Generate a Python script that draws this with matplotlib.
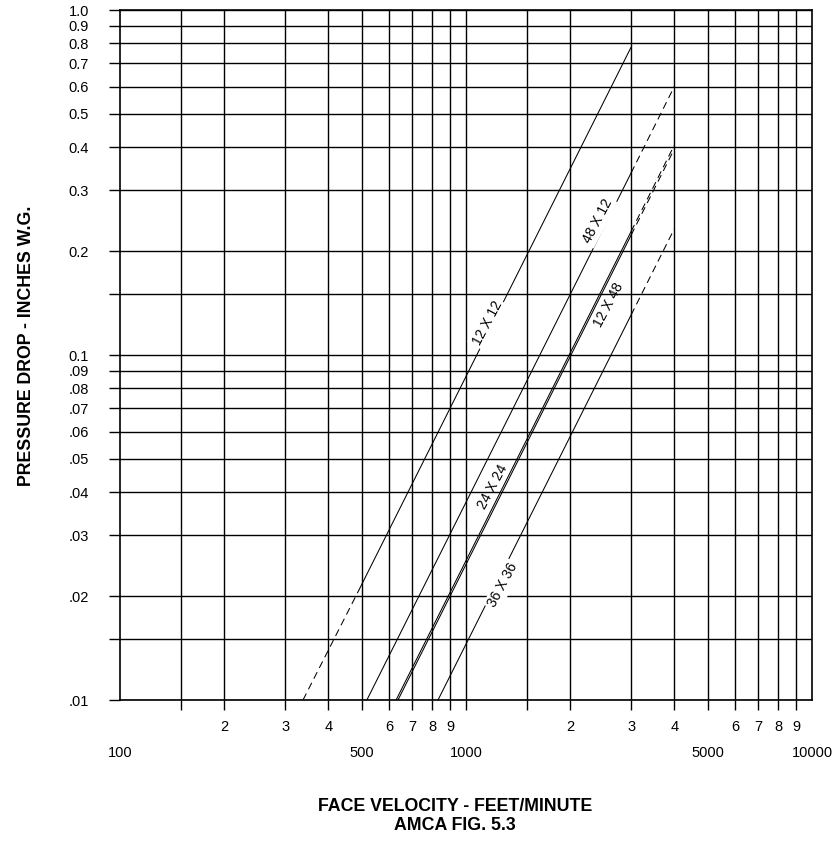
import matplotlib
matplotlib.use('Agg')
import matplotlib.pyplot as plt
import numpy as np
from matplotlib.ticker import FixedLocator, NullLocator, FixedFormatter
from matplotlib.transforms import blended_transform_factory

plt.rcParams['font.family'] = ['Liberation Sans', 'DejaVu Sans']

# ---- data ----
series_names = ['12 X 12', '48 X 12', '24 X 24', '12 X 48', '36 X 36']
solid_velocity = [[490, 3000], [517, 3000], [628, 3000], [636, 3000], [830, 3000]]
solid_pressure = [[0.0208, 0.78], [0.01, 0.337], [0.01, 0.228], [0.01, 0.2225], [0.01, 0.1306]]
dashed_velocity = [[338, 490], [3000, 4000], [3000, 4000], [3000, 4000], [3000, 4000]]
dashed_pressure = [[0.01, 0.0208], [0.337, 0.60], [0.228, 0.406], [0.2225, 0.3955], [0.1306, 0.2322]]
label_velocity = [1183, 2520, 1262, 2413, 1229]

x_tick_values = [150, 200, 300, 400, 500, 600, 700, 800, 900,
                 1000, 1500, 2000, 3000, 4000, 5000, 6000, 7000, 8000, 9000]
x_tick_labels = ['', '2', '3', '4', '', '6', '7', '8', '9',
                 '', '', '2', '3', '4', '', '6', '7', '8', '9']
x_decade_values = [100, 500, 1000, 5000, 10000]
x_decade_labels = ['100', '500', '1000', '5000', '10000']

y_tick_values = [0.01, 0.015, 0.02, 0.03, 0.04, 0.05, 0.06, 0.07, 0.08, 0.09,
                 0.1, 0.15, 0.2, 0.3, 0.4, 0.5, 0.6, 0.7, 0.8, 0.9, 1.0]
y_tick_labels = ['.01', '', '.02', '.03', '.04', '.05', '.06', '.07', '.08', '.09',
                 '0.1', '', '0.2', '0.3', '0.4', '0.5', '0.6', '0.7', '0.8', '0.9', '1.0']

# ---- figure ----
W, H = 833, 846
fig = plt.figure(figsize=(W / 100, H / 100), dpi=100)
L, R, T, B = 120, 812, 10, 700
ax = fig.add_axes([L / W, 1 - B / H, (R - L) / W, (B - T) / H])
ax.set_xscale('log')
ax.set_yscale('log')
ax.set_xlim(100, 10000)
ax.set_ylim(0.01, 1.0)

ax.xaxis.set_major_locator(FixedLocator(x_tick_values))
ax.xaxis.set_major_formatter(FixedFormatter(x_tick_labels))
ax.xaxis.set_minor_locator(NullLocator())
ax.yaxis.set_major_locator(FixedLocator(y_tick_values))
ax.yaxis.set_major_formatter(FixedFormatter(y_tick_labels))
ax.yaxis.set_minor_locator(NullLocator())

ax.tick_params(axis='x', direction='out', length=7.2, width=1.0, pad=7.0,
               labelsize=10.5, colors='black')
ax.tick_params(axis='y', direction='out', length=7.9, width=1.0, pad=14.4,
               labelsize=10.5, colors='black')
ax.grid(True, which='major', color='black', linewidth=1.0, zorder=1)
ax.set_axisbelow(True)
for s in ax.spines.values():
    s.set_linewidth(1.2)
    s.set_color('black')

trans = blended_transform_factory(ax.transData, ax.transAxes)
for v, lab in zip(x_decade_values, x_decade_labels):
    ax.text(v, (B - 757) / (B - T), lab, transform=trans, ha='center', va='baseline',
            fontsize=10.5, clip_on=False)

# ---- curves ----
label_offsets = [(-4, 3), (-7, 4), (-8, 4), (10, -5), (6, -3)]
label_box = [True, True, False, False, True]
for i, name in enumerate(series_names):
    ax.plot(solid_velocity[i], solid_pressure[i], color='black', lw=0.75, zorder=3)
    ax.plot(dashed_velocity[i], dashed_pressure[i], color='black', lw=0.75,
            dashes=(7, 4.5), zorder=3)
    sv = np.log10(solid_velocity[i])
    sp = np.log10(solid_pressure[i])
    lv = np.log10(label_velocity[i])
    lp = 10 ** np.interp(lv, sv, sp)
    kw = {}
    if label_box[i]:
        kw['bbox'] = dict(boxstyle='square,pad=0.15', fc='white', ec='none')
    ax.annotate(name, xy=(label_velocity[i], lp), xytext=label_offsets[i],
                textcoords='offset pixels', rotation=62, rotation_mode='anchor',
                ha='center', va='center', fontsize=10, zorder=4, **kw)

# ---- axis titles ----
fig.text(27 / W, 1 - 346 / H, 'PRESSURE DROP - INCHES W.G.', rotation=90,
         ha='center', va='center', fontsize=12.8, fontweight='bold')
fig.text(455 / W, 1 - 806 / H, 'FACE VELOCITY - FEET/MINUTE',
         ha='center', va='center', fontsize=12.8, fontweight='bold')
fig.text(455 / W, 1 - 825 / H, 'AMCA FIG. 5.3',
         ha='center', va='center', fontsize=12.8, fontweight='bold')

fig.savefig('out.png', dpi=100)
